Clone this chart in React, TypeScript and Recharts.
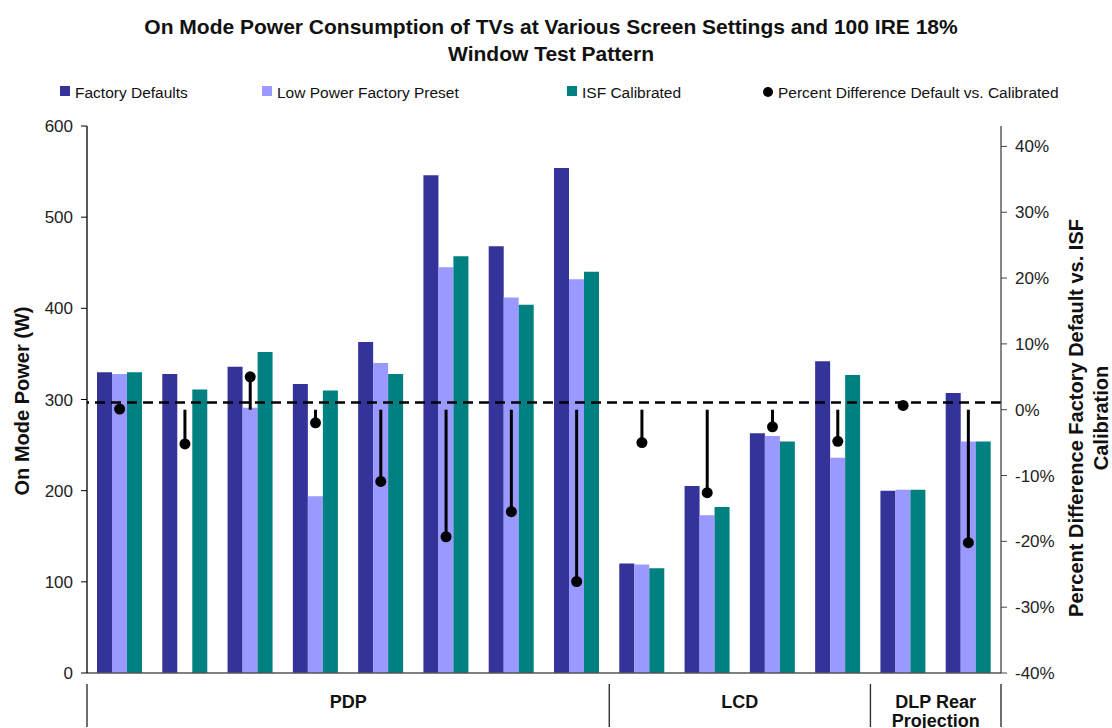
import React from "react";
import {
  ComposedChart,
  Bar,
  Line,
  ErrorBar,
  XAxis,
  YAxis,
  ReferenceLine,
} from "recharts";

const tvs = ["1", "2", "3", "4", "5", "6", "7", "8", "9", "10", "11", "12", "13", "14"];
const groupLabels = [["PDP"], ["LCD"], ["DLP Rear", "Projection"]];
const groupSizes = [8, 4, 2];

const factoryDefaults = [330, 328, 336, 317, 363, 546, 468, 554, 120, 205, 263, 342, 200, 307];
const lowPowerPreset = [328, null, 291, 194, 340, 445, 412, 432, 119, 173, 260, 236, 201, 254];
const isfCalibrated = [330, 311, 352, 310, 328, 457, 404, 440, 115, 182, 254, 327, 201, 254];
const percentDiff = [0.001, -0.052, 0.05, -0.02, -0.109, -0.193, -0.155, -0.261, -0.05, -0.126, -0.026, -0.048, 0.0065, -0.202];

const powerTicks = [0, 100, 200, 300, 400, 500, 600];
const percentTicks = [-0.4, -0.3, -0.2, -0.1, 0, 0.1, 0.2, 0.3, 0.4];

const W = 1112;
const H = 728;
const margin = { top: 126, right: 51, bottom: 0, left: 27 };
const axisW = 60;
const plotW = W - margin.left - margin.right - axisW * 2;
const band = plotW / tvs.length;

const data = tvs.map((tv, i) => ({
  tv,
  fd: factoryDefaults[i],
  lp: lowPowerPreset[i],
  isf: isfCalibrated[i],
  pct: percentDiff[i],
  // drop line from 0% to the point
  err: percentDiff[i] < 0 ? [0, -percentDiff[i]] : [percentDiff[i], 0],
}));

const font = "'Liberation Sans', Arial, sans-serif";

const groupStarts = groupSizes.map((_, g) => groupSizes.slice(0, g).reduce((a, b) => a + b, 0));

function GroupTick(props: any) {
  const { x, y, index } = props;
  const g = groupStarts.indexOf(index);
  const items: React.ReactNode[] = [];
  if (g >= 0) {
    const left = x - band / 2;
    items.push(<line key="s" x1={left} x2={left} y1={y + 3} y2={y + 46} stroke="#333" strokeWidth={1.4} />);
    const cx = left + (groupSizes[g] * band) / 2;
    groupLabels[g].forEach((t, k) => {
      items.push(
        <text key={"t" + k} x={cx} y={y + 27 + k * 19} textAnchor="middle" fontFamily={font} fontWeight="bold" fontSize={18} fill="#111">
          {t}
        </text>
      );
    });
  }
  if (index === tvs.length - 1) {
    const right = x + band / 2;
    items.push(<line key="e" x1={right} x2={right} y1={y + 3} y2={y + 46} stroke="#333" strokeWidth={1.4} />);
  }
  return <g>{items}</g>;
}

function Dot(props: any) {
  const { cx, cy } = props;
  if (cx == null || cy == null) return null;
  return <circle cx={cx} cy={cy} r={5.5} fill="#000" />;
}

const legend = [
  { x: 60, label: "Factory Defaults", color: "#333399" },
  { x: 262, label: "Low Power Factory Preset", color: "#9999FF" },
  { x: 567, label: "ISF Calibrated", color: "#008080" },
];

const tickStyle = { fill: "#222", fontSize: 17, fontFamily: font };

export default function App() {
  return (
    <div style={{ position: "absolute", left: 0, top: 0, width: W, height: H, background: "#fff" }}>
      <ComposedChart width={W} height={H} data={data} margin={margin} barGap={0} barCategoryGap={10}>
        <XAxis
          dataKey="tv"
          height={55}
          interval={0}
          tickLine={false}
          axisLine={{ stroke: "#555", strokeWidth: 1.5 }}
          tick={<GroupTick />}
        />
        <YAxis
          yAxisId="left"
          width={axisW}
          domain={[0, 600]}
          ticks={powerTicks}
          tickSize={6}
          tickMargin={8}
          axisLine={{ stroke: "#000", strokeWidth: 1.3 }}
          tickLine={{ stroke: "#000" }}
          tick={tickStyle}
        />
        <YAxis
          yAxisId="right"
          orientation="right"
          width={axisW}
          domain={[-0.4, 0.431]}
          ticks={percentTicks}
          allowDataOverflow
          tickSize={6}
          tickMargin={8}
          tickFormatter={(v: number) => `${Math.round(v * 100)}%`}
          axisLine={{ stroke: "#444", strokeWidth: 1.3 }}
          tickLine={{ stroke: "#444" }}
          tick={tickStyle}
        />
        <Bar yAxisId="left" dataKey="fd" fill="#333399" isAnimationActive={false} />
        <Bar yAxisId="left" dataKey="lp" fill="#9999FF" isAnimationActive={false} />
        <Bar yAxisId="left" dataKey="isf" fill="#008080" isAnimationActive={false} />
        <ReferenceLine yAxisId="right" y={0.011} stroke="#000" strokeWidth={2.5} strokeDasharray="10 6" />
        <Line
          yAxisId="right"
          dataKey="pct"
          stroke="none"
          dot={<Dot />}
          activeDot={false}
          isAnimationActive={false}
        >
          <ErrorBar dataKey="err" direction="y" width={0} stroke="#000" strokeWidth={3} />
        </Line>
      </ComposedChart>
      <svg width={W} height={H} style={{ position: "absolute", left: 0, top: 0, pointerEvents: "none" }}>
        <text x={551} y={34} textAnchor="middle" fontFamily={font} fontWeight="bold" fontSize={21} fill="#111">
          On Mode Power Consumption of TVs at Various Screen Settings and 100 IRE 18%
        </text>
        <text x={551} y={61} textAnchor="middle" fontFamily={font} fontWeight="bold" fontSize={21} fill="#111">
          Window Test Pattern
        </text>
        {legend.map((l) => (
          <g key={l.label}>
            <rect x={l.x} y={86} width={10} height={10} fill={l.color} />
            <text x={l.x + 15} y={98} fontFamily={font} fontSize={15.5} fill="#111">
              {l.label}
            </text>
          </g>
        ))}
        <circle cx={768} cy={92} r={5} fill="#000" />
        <text x={778} y={98} fontFamily={font} fontSize={15.5} fill="#111">
          Percent Difference Default vs. Calibrated
        </text>
        <text transform="translate(29,401) rotate(-90)" textAnchor="middle" fontFamily={font} fontWeight="bold" fontSize={20} fill="#111">
          On Mode Power (W)
        </text>
        <text transform="translate(1083,418) rotate(-90)" textAnchor="middle" fontFamily={font} fontWeight="bold" fontSize={20} fill="#111">
          Percent Difference Factory Default vs. ISF
        </text>
        <text transform="translate(1108,418) rotate(-90)" textAnchor="middle" fontFamily={font} fontWeight="bold" fontSize={20} fill="#111">
          Calibration
        </text>
      </svg>
    </div>
  );
}
